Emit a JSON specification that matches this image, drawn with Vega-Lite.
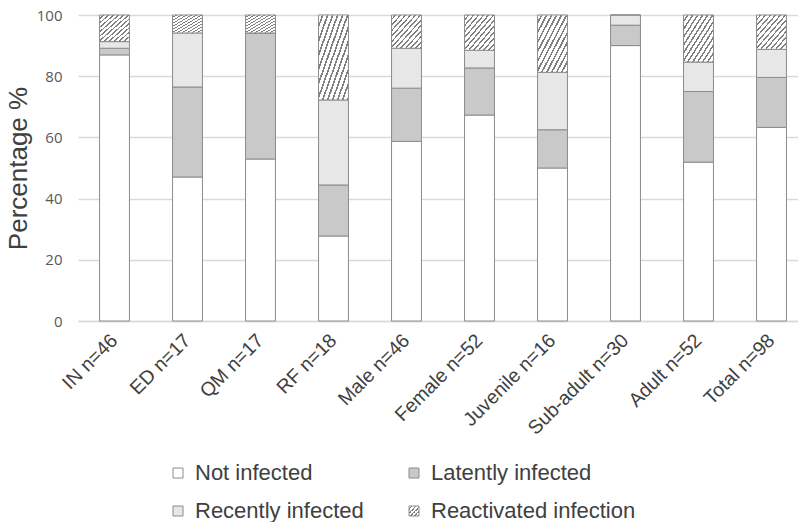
{
  "$schema": "https://vega.github.io/schema/vega-lite/v6.json",
  "autosize": "none",
  "padding": {"left": 78, "top": 15, "right": 0, "bottom": 201},
  "width": 720,
  "height": 306,
  "background": "white",
  "config": {"view": {"stroke": null}},
  "data": {"values": [
    {"group": "IN n=46", "status": "Not infected", "k": 1, "pct": 86.96},
    {"group": "IN n=46", "status": "Latently infected", "k": 2, "pct": 2.17},
    {"group": "IN n=46", "status": "Recently infected", "k": 3, "pct": 2.17},
    {"group": "IN n=46", "status": "Reactivated infection", "k": 4, "pct": 8.70},
    {"group": "ED n=17", "status": "Not infected", "k": 1, "pct": 47.06},
    {"group": "ED n=17", "status": "Latently infected", "k": 2, "pct": 29.41},
    {"group": "ED n=17", "status": "Recently infected", "k": 3, "pct": 17.65},
    {"group": "ED n=17", "status": "Reactivated infection", "k": 4, "pct": 5.88},
    {"group": "QM n=17", "status": "Not infected", "k": 1, "pct": 52.94},
    {"group": "QM n=17", "status": "Latently infected", "k": 2, "pct": 41.18},
    {"group": "QM n=17", "status": "Recently infected", "k": 3, "pct": 0},
    {"group": "QM n=17", "status": "Reactivated infection", "k": 4, "pct": 5.88},
    {"group": "RF n=18", "status": "Not infected", "k": 1, "pct": 27.78},
    {"group": "RF n=18", "status": "Latently infected", "k": 2, "pct": 16.67},
    {"group": "RF n=18", "status": "Recently infected", "k": 3, "pct": 27.78},
    {"group": "RF n=18", "status": "Reactivated infection", "k": 4, "pct": 27.78},
    {"group": "Male n=46", "status": "Not infected", "k": 1, "pct": 58.70},
    {"group": "Male n=46", "status": "Latently infected", "k": 2, "pct": 17.39},
    {"group": "Male n=46", "status": "Recently infected", "k": 3, "pct": 13.04},
    {"group": "Male n=46", "status": "Reactivated infection", "k": 4, "pct": 10.87},
    {"group": "Female n=52", "status": "Not infected", "k": 1, "pct": 67.31},
    {"group": "Female n=52", "status": "Latently infected", "k": 2, "pct": 15.38},
    {"group": "Female n=52", "status": "Recently infected", "k": 3, "pct": 5.77},
    {"group": "Female n=52", "status": "Reactivated infection", "k": 4, "pct": 11.54},
    {"group": "Juvenile n=16", "status": "Not infected", "k": 1, "pct": 50.0},
    {"group": "Juvenile n=16", "status": "Latently infected", "k": 2, "pct": 12.5},
    {"group": "Juvenile n=16", "status": "Recently infected", "k": 3, "pct": 18.75},
    {"group": "Juvenile n=16", "status": "Reactivated infection", "k": 4, "pct": 18.75},
    {"group": "Sub-adult n=30", "status": "Not infected", "k": 1, "pct": 90.0},
    {"group": "Sub-adult n=30", "status": "Latently infected", "k": 2, "pct": 6.67},
    {"group": "Sub-adult n=30", "status": "Recently infected", "k": 3, "pct": 3.33},
    {"group": "Sub-adult n=30", "status": "Reactivated infection", "k": 4, "pct": 0},
    {"group": "Adult n=52", "status": "Not infected", "k": 1, "pct": 51.92},
    {"group": "Adult n=52", "status": "Latently infected", "k": 2, "pct": 23.08},
    {"group": "Adult n=52", "status": "Recently infected", "k": 3, "pct": 9.62},
    {"group": "Adult n=52", "status": "Reactivated infection", "k": 4, "pct": 15.38},
    {"group": "Total n=98", "status": "Not infected", "k": 1, "pct": 63.27},
    {"group": "Total n=98", "status": "Latently infected", "k": 2, "pct": 16.33},
    {"group": "Total n=98", "status": "Recently infected", "k": 3, "pct": 9.18},
    {"group": "Total n=98", "status": "Reactivated infection", "k": 4, "pct": 11.22}
  ]},
  "mark": {"type": "bar", "stroke": "#8c8c8c", "strokeWidth": 1},
  "encoding": {
    "x": {
      "field": "group", "type": "nominal", "sort": null,
      "scale": {"range": [0, 730], "paddingInner": 0.59, "paddingOuter": 0.295},
      "axis": {
        "title": null, "labelAngle": -45, "labelAlign": "right", "labelBaseline": "middle",
        "labelFont": "Liberation Sans", "labelFontSize": 19.5, "labelColor": "#404040",
        "labelPadding": 16, "ticks": false, "domainColor": "#d9d9d9", "domainWidth": 1.5
      }
    },
    "y": {
      "field": "pct", "type": "quantitative", "stack": "zero",
      "scale": {"domain": [0, 100], "nice": false},
      "axis": {
        "title": "Percentage %", "titleFont": "Liberation Sans", "titleFontSize": 26,
        "titleFontWeight": "normal", "titleColor": "#404040", "titlePadding": 5,
        "labelFont": "Open Sans", "labelFontSize": 15, "labelColor": "#595959",
        "labelPadding": 16, "ticks": false, "domain": false, "values": [0, 20, 40, 60, 80, 100],
        "gridColor": "#d9d9d9", "gridWidth": 1.5
      }
    },
    "order": {"field": "k", "type": "quantitative"},
    "color": {
      "condition": [
        {"test": "datum.status === 'Not infected'", "value": "#ffffff"},
        {"test": "datum.status === 'Latently infected'", "value": "#c9c9c9"},
        {"test": "datum.status === 'Recently infected'", "value": "#e7e7e7"}
      ],
      "value": {"gradient": "linear", "x1": 0, "y1": 0, "x2": 1, "y2": 1, "stops": [
            {"offset": 0.00, "color": "#ffffff"}, {"offset": 0.055, "color": "#ffffff"}, {"offset": 0.055, "color": "#7f7f7f"}, {"offset": 0.083, "color": "#7f7f7f"},
            {"offset": 0.083, "color": "#ffffff"}, {"offset": 0.138, "color": "#ffffff"}, {"offset": 0.138, "color": "#7f7f7f"}, {"offset": 0.167, "color": "#7f7f7f"},
            {"offset": 0.167, "color": "#ffffff"}, {"offset": 0.222, "color": "#ffffff"}, {"offset": 0.222, "color": "#7f7f7f"}, {"offset": 0.250, "color": "#7f7f7f"},
            {"offset": 0.250, "color": "#ffffff"}, {"offset": 0.305, "color": "#ffffff"}, {"offset": 0.305, "color": "#7f7f7f"}, {"offset": 0.333, "color": "#7f7f7f"},
            {"offset": 0.333, "color": "#ffffff"}, {"offset": 0.388, "color": "#ffffff"}, {"offset": 0.388, "color": "#7f7f7f"}, {"offset": 0.417, "color": "#7f7f7f"},
            {"offset": 0.417, "color": "#ffffff"}, {"offset": 0.472, "color": "#ffffff"}, {"offset": 0.472, "color": "#7f7f7f"}, {"offset": 0.500, "color": "#7f7f7f"},
            {"offset": 0.500, "color": "#ffffff"}, {"offset": 0.555, "color": "#ffffff"}, {"offset": 0.555, "color": "#7f7f7f"}, {"offset": 0.583, "color": "#7f7f7f"},
            {"offset": 0.583, "color": "#ffffff"}, {"offset": 0.638, "color": "#ffffff"}, {"offset": 0.638, "color": "#7f7f7f"}, {"offset": 0.667, "color": "#7f7f7f"},
            {"offset": 0.667, "color": "#ffffff"}, {"offset": 0.722, "color": "#ffffff"}, {"offset": 0.722, "color": "#7f7f7f"}, {"offset": 0.750, "color": "#7f7f7f"},
            {"offset": 0.750, "color": "#ffffff"}, {"offset": 0.805, "color": "#ffffff"}, {"offset": 0.805, "color": "#7f7f7f"}, {"offset": 0.833, "color": "#7f7f7f"},
            {"offset": 0.833, "color": "#ffffff"}, {"offset": 0.888, "color": "#ffffff"}, {"offset": 0.888, "color": "#7f7f7f"}, {"offset": 0.917, "color": "#7f7f7f"},
            {"offset": 0.917, "color": "#ffffff"}, {"offset": 0.972, "color": "#ffffff"}, {"offset": 0.972, "color": "#7f7f7f"}, {"offset": 1.000, "color": "#7f7f7f"}
      ]}
    },
    "opacity": {
      "field": "status", "type": "nominal",
      "scale": {
        "type": "ordinal",
        "domain": ["Not infected", "Latently infected", "Recently infected", "Reactivated infection"],
        "range": [1, 1, 1, 1]
      },
      "legend": {
        "title": null, "orient": "none", "legendX": 89, "legendY": 447, "direction": "horizontal",
        "columns": 2, "columnPadding": 39, "rowPadding": 16,
        "symbolType": "square", "symbolSize": 100, "symbolStrokeColor": "#8c8c8c", "symbolStrokeWidth": 1,
        "labelFont": "Liberation Sans", "labelFontSize": 22, "labelColor": "#404040", "labelOffset": 6,
        "labelLimit": 400,
        "encoding": {
          "symbols": {
            "fill": {
              "condition": [
                {"test": "datum.value === 'Not infected'", "value": "#ffffff"},
                {"test": "datum.value === 'Latently infected'", "value": "#c9c9c9"},
                {"test": "datum.value === 'Recently infected'", "value": "#e7e7e7"}
              ],
              "value": {"gradient": "linear", "x1": 0, "y1": 0, "x2": 1, "y2": 1, "stops": [
                  {"offset": 0.0, "color": "#ffffff"}, {"offset": 0.12, "color": "#ffffff"}, {"offset": 0.12, "color": "#7f7f7f"}, {"offset": 0.2, "color": "#7f7f7f"},
                  {"offset": 0.2, "color": "#ffffff"}, {"offset": 0.32, "color": "#ffffff"}, {"offset": 0.32, "color": "#7f7f7f"}, {"offset": 0.4, "color": "#7f7f7f"},
                  {"offset": 0.4, "color": "#ffffff"}, {"offset": 0.52, "color": "#ffffff"}, {"offset": 0.52, "color": "#7f7f7f"}, {"offset": 0.6, "color": "#7f7f7f"},
                  {"offset": 0.6, "color": "#ffffff"}, {"offset": 0.72, "color": "#ffffff"}, {"offset": 0.72, "color": "#7f7f7f"}, {"offset": 0.8, "color": "#7f7f7f"},
                  {"offset": 0.8, "color": "#ffffff"}, {"offset": 0.92, "color": "#ffffff"}, {"offset": 0.92, "color": "#7f7f7f"}, {"offset": 1.0, "color": "#7f7f7f"}
              ]}
            },
            "stroke": {"value": "#8c8c8c"},
            "strokeWidth": {"value": 1},
            "opacity": {"value": 1}
          }
        }
      }
    }
  }
}
